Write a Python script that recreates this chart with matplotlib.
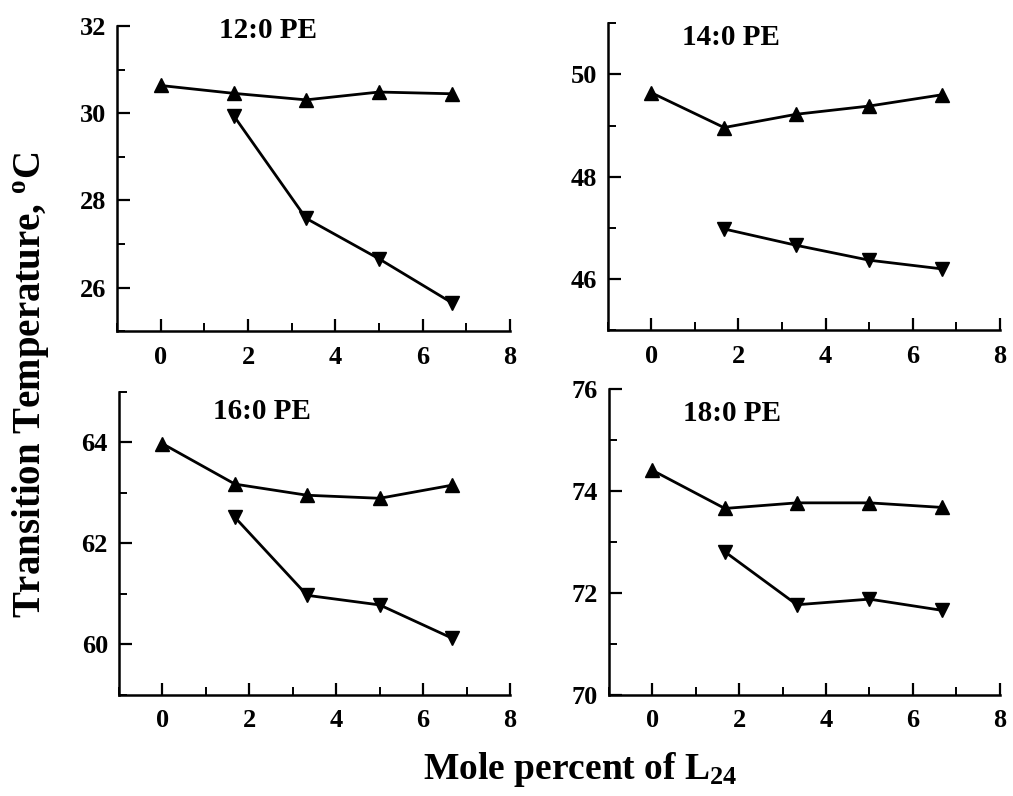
import matplotlib
matplotlib.use("Agg")
import matplotlib.pyplot as plt
from matplotlib.ticker import MultipleLocator

plt.rcParams['font.family'] = ['Liberation Serif', 'DejaVu Serif']
plt.rcParams['font.weight'] = 'bold'
plt.rcParams['mathtext.fontset'] = 'custom'
plt.rcParams['mathtext.rm'] = 'Liberation Serif:bold'
plt.rcParams['mathtext.bf'] = 'Liberation Serif:bold'
plt.rcParams['mathtext.it'] = 'Liberation Serif:bold'

# Data
x_all = [0, 1.67, 3.33, 5.0, 6.67]
x_low = [1.67, 3.33, 5.0, 6.67]

titles = ["12:0 PE", "14:0 PE", "16:0 PE", "18:0 PE"]
upper = [
    [30.64, 30.46, 30.31, 30.49, 30.45],
    [49.64, 48.96, 49.22, 49.38, 49.60],
    [63.97, 63.17, 62.95, 62.89, 63.15],
    [74.41, 73.66, 73.77, 73.77, 73.68],
]
lower = [
    [29.95, 27.59, 26.66, 25.65],
    [46.98, 46.66, 46.37, 46.20],
    [62.51, 60.97, 60.78, 60.12],
    [72.81, 71.77, 71.88, 71.66],
]
ylims = [(25, 32), (45, 51), (59, 65), (70, 76)]
yticks = [[26, 28, 30, 32], [46, 48, 50], [60, 62, 64], [70, 72, 74, 76]]
xticks = [0, 2, 4, 6, 8]

# Layout (figure fractions)
positions = [
    [0.1155, 0.584, 0.388, 0.383],
    [0.600, 0.585, 0.387, 0.386],
    [0.1175, 0.127, 0.386, 0.381],
    [0.601, 0.127, 0.386, 0.384],
]
title_pos = [(0.26, 0.985), (0.19, 0.954), (0.24, 0.934), (0.19, 0.92)]

fig = plt.figure(figsize=(10.13, 7.96), dpi=100)

for i in range(4):
    ax = fig.add_axes(positions[i])
    ax.plot(x_all, upper[i], color='black', lw=2.0, marker='^', ms=10,
            mfc='black', mec='black')
    ax.plot(x_low, lower[i], color='black', lw=2.0, marker='v', ms=10,
            mfc='black', mec='black')
    ax.set_xlim(-1, 8)
    ax.set_ylim(*ylims[i])
    ax.set_xticks(xticks)
    ax.set_yticks(yticks[i])
    ax.xaxis.set_minor_locator(MultipleLocator(1))
    ax.yaxis.set_minor_locator(MultipleLocator(1))
    for s in ['top', 'right']:
        ax.spines[s].set_visible(False)
    for s in ['left', 'bottom']:
        ax.spines[s].set_linewidth(1.8)
    ax.tick_params(axis='both', which='major', direction='in', length=9,
                   width=1.6, labelsize=19, pad=8)
    ax.tick_params(axis='x', which='major', pad=10.5)
    ax.tick_params(axis='both', which='minor', direction='in', length=5.5,
                   width=1.4)
    for lab in ax.get_xticklabels() + ax.get_yticklabels():
        lab.set_fontweight('bold')
    ax.text(title_pos[i][0], title_pos[i][1], titles[i], transform=ax.transAxes,
            fontsize=21, fontweight='bold', ha='left', va='center')

fig.text(0.030, 0.516, r"Transition Temperature, $^{\mathrm{o}}$C",
         rotation=90, fontsize=28, fontweight='bold', ha='center', va='center')
fig.text(0.573, 0.033, r"Mole percent of L$_{\mathrm{24}}$",
         fontsize=27, fontweight='bold', ha='center', va='center')

fig.savefig("out.png", dpi=100)
